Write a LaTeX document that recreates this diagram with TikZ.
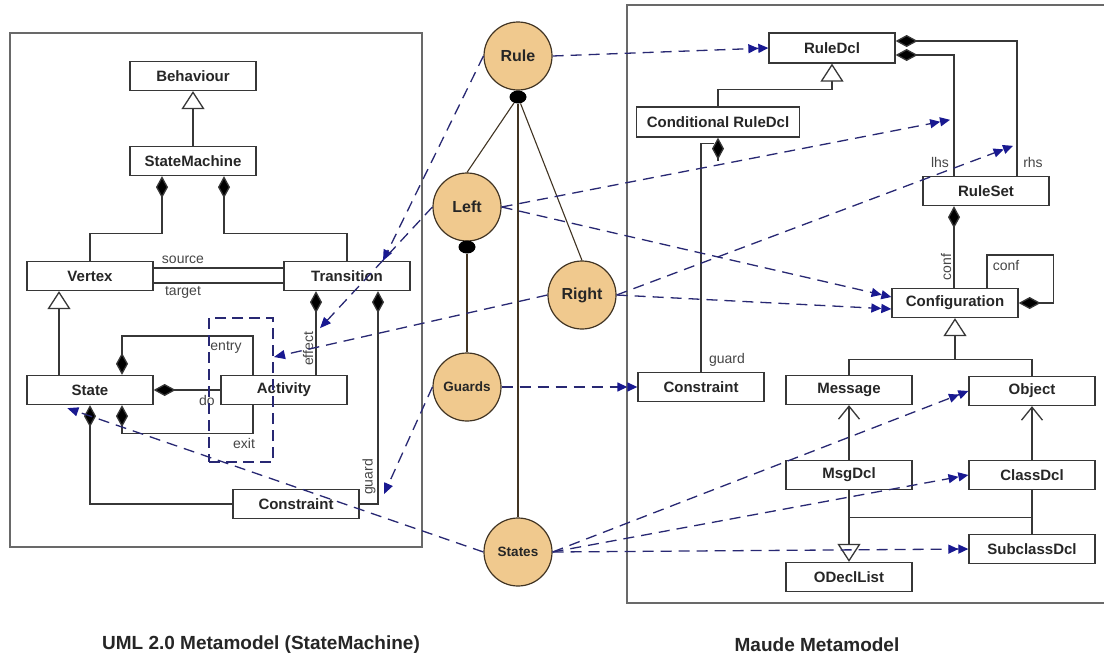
\documentclass[tikz,border=0pt]{standalone}
\usepackage{fontspec}
\setmainfont{Liberation Sans}
\usetikzlibrary{arrows.meta,calc,shapes.geometric}

\definecolor{navyline}{RGB}{40,40,115}
\definecolor{navytip}{RGB}{25,25,145}
\definecolor{boxline}{RGB}{55,55,55}
\definecolor{frameline}{RGB}{105,105,105}
\definecolor{disctan}{RGB}{240,201,142}
\definecolor{discline}{RGB}{65,52,35}
\definecolor{labelgray}{RGB}{70,70,70}

\tikzset{
  cls/.style={draw=boxline, line width=1.3pt, fill=white, minimum width=126pt,
    minimum height=29pt, inner sep=0pt, text=black!85,
    font=\bfseries\fontsize{15}{17}\selectfont},
  disc/.style={circle, draw=discline, line width=1.2pt, fill=disctan,
    minimum size=68pt, inner sep=0pt, text=black!85,
    font=\bfseries\fontsize{16}{18}\selectfont},
  discsm/.style={disc, font=\bfseries\fontsize{13.5}{16}\selectfont},
  ball/.style={ellipse, fill=black, minimum width=17pt, minimum height=13pt, inner sep=0pt},
  link/.style={draw=boxline, line width=1.3pt},
  comp/.style={link, {Diamond[length=22pt,width=12pt,fill=black]}-},
  gen/.style={link, -{Triangle[length=18pt,width=23pt,fill=white]}},
  nav/.style={link, -{Straight Barb[length=13pt,width=21pt]}},
  stem/.style={draw=discline, line width=1.1pt},
  map/.style={draw=navyline, line width=1.3pt, dash pattern=on 11pt off 7pt},
  tipone/.style={map, -{Triangle[length=11pt,width=9pt,color=navytip]}},
  tiptwo/.style={map, -{Triangle[length=10pt,width=9pt,color=navytip]
                        Triangle[length=10pt,width=9pt,color=navytip]}},
  role/.style={font=\fontsize{14}{16}\selectfont, text=labelgray, inner sep=0pt},
  panel/.style={draw=frameline, line width=1.6pt},
  grp/.style={draw=navyline, line width=2pt, dash pattern=on 11pt off 6pt},
  caption/.style={font=\bfseries\fontsize{19}{22}\selectfont, text=black!85},
}

\begin{document}
\begin{tikzpicture}[x=1pt, y=-1pt]
\useasboundingbox (0,0) rectangle (1104,659);
\fill[white] (0,0) rectangle (1104,659);

% the two metamodel frames
\draw[panel] (10,33) rectangle (422,547);
\draw[panel] (1104,5) -- (627,5) -- (627,603) -- (1104,603);

% UML state machine classes
\node[cls] (beh) at (193,76) {Behaviour};
\node[cls] (sm) at (193,161) {StateMachine};
\node[cls] (vertex) at (90,276) {Vertex};
\node[cls] (trans) at (347,276) {Transition};
\node[cls] (state) at (90,390) {State};
\node[cls] (activity) at (284,390) {Activity};
\node[cls] (cons1) at (296,504) {Constraint};

% Maude classes
\node[cls, minimum height=30pt] (ruledcl) at (832,48) {RuleDcl};
\node[cls, minimum width=163pt, minimum height=30pt] (condrule) at (718,122) {Conditional RuleDcl};
\node[cls] (ruleset) at (986,191) {RuleSet};
\node[cls] (config) at (955,303) {Configuration};
\node[cls] (cons2) at (701,387) {Constraint};
\node[cls] (message) at (849,390) {Message};
\node[cls] (object) at (1032,391) {Object};
\node[cls] (msgdcl) at (849,475) {MsgDcl};
\node[cls] (classdcl) at (1032,475) {ClassDcl};
\node[cls] (subclass) at (1032,549) {SubclassDcl};
\node[cls] (odecl) at (849,577) {ODeclList};

% rule pattern tree
\node[disc] (rule) at (518,56) {Rule};
\node[disc] (lft) at (467,207) {Left};
\node[disc] (rgt) at (582,295) {Right};
\node[discsm] (guards) at (467,387) {Guards};
\node[discsm] (states) at (518,552) {States};
\node[ball] (rball) at (518,97) {};
\node[ball] (lball) at (467,247) {};
\draw[stem] (rball) -- (lft.north);
\draw[stem] (rball) -- (states.north);
\draw[stem] (rball) -- (rgt.north);
\draw[stem] (lball) -- (guards.north);

% UML associations
\draw[gen] (sm.north) -- (beh.south);
\draw[comp] ([xshift=-31pt]sm.south) -- ++(0,57) -| (vertex.north);
\draw[comp] ([xshift=31pt]sm.south) -- ++(0,57) -| (trans.north);
\draw[link] ([yshift=8pt]vertex.east) -- ([yshift=8pt]trans.west);
\draw[link] ([yshift=-7pt]vertex.east) -- ([yshift=-7pt]trans.west);
\node[role] (lsource) at (183,260) {source};
\node[role] (ltarget) at (183,292) {target};
\draw[gen] ([xshift=-31pt]state.north) -- ([xshift=-31pt]vertex.south);
\draw[comp] ([xshift=32pt]state.north) -- ++(0,-39) -| ([xshift=-31pt]activity.north);
\draw[comp] (state.east) -- (activity.west);
\draw[comp] ([xshift=32pt]state.south) -- ++(0,28) -| ([xshift=-31pt]activity.south);
\draw[comp] (state.south) |- (cons1.west);
\draw[comp] ([xshift=-31pt]trans.south) -- ([xshift=-31pt]trans.south |- activity.north);
\draw[comp] ([xshift=31pt]trans.south) |- (cons1.east);
\node[role] (lentry) at (226,347) {entry};
\node[role] (ldo) at (207,400) {do};
\node[role] (lexit) at (244,443) {exit};
\node[role, rotate=90] (leffect) at (308,349) {effect};
\node[role, rotate=90] (lguard) at (369,477) {guard};
\node[grp, minimum width=64pt, minimum height=144pt, inner sep=0pt] (actgrp) at (241,390) {};

% Maude associations
\draw[gen] (condrule.north) -- ++(0,-17) -| (ruledcl.south);
\draw[comp] ([yshift=7pt]ruledcl.east) -| ([xshift=31pt]ruleset.north);
\draw[comp] ([yshift=-7pt]ruledcl.east) -| ([xshift=-32pt]ruleset.north);
\node[role] (llhs) at (940,162) {lhs};
\node[role] (lrhs) at (1033,162) {rhs};
\draw[comp] ([xshift=-32pt]ruleset.south) -- ([xshift=-32pt]ruleset.south |- config.north);
\node[role, rotate=90] (lconf) at (946,267) {conf};
\draw[comp] (config.east) -- ++(35,0) -- ++(0,-48) -| ([xshift=32pt]config.north);
\node[role] (lconfloop) at (1006,265) {conf};
\draw[comp] (condrule.south) -- ++(0,23);
\draw[link] ($(condrule.south)+(-4,6)$) -| (cons2.north);
\node[role] (lguard2) at (727,360) {guard};
\draw[gen] (message.north) |- ($(config.south)+(0,41)$) -- (config.south);
\draw[link] (object.north) |- ($(config.south)+(0,41)$);
\draw[nav] (msgdcl.north) -- (message.south);
\draw[nav] (classdcl.north) -- (object.south);
\draw[link] (classdcl.south) -- (subclass.north);
\coordinate (jn) at ($(classdcl.south)!0.62!(subclass.north)$);
\draw[link] (jn) -- (jn -| msgdcl.south);
\draw[gen] (msgdcl.south) -- (odecl.north);

% correspondence arrows
\coordinate (effpt) at ($(trans.south)+(-27,37)$);
\coordinate (lhspt) at ($(ruleset.north)+(-36,-56)$);
\coordinate (rhspt) at ($(ruleset.north)+(27,-30)$);
\coordinate (grdpt) at ($(trans.south)+(37,203)$);
\coordinate (stpt) at ($(state.south west)+(41,3)$);
\coordinate (entpt) at ($(actgrp.east)+(0,-33)$);
\draw[tiptwo] (rule.east) -- (ruledcl.west);
\draw[tipone] (rule.west) -- ([xshift=36pt]trans.north);
\draw[tipone] (lft.west) -- (effpt);
\draw[tiptwo] (lft.east) -- (lhspt);
\draw[tiptwo] (lft.east) -- ([yshift=6pt]config.west);
\draw[tiptwo] (rgt.east) -- ([yshift=-6pt]config.west);
\draw[tiptwo] (rgt.east) -- (rhspt);
\draw[tipone] (rgt.west) -- (entpt);
\draw[tiptwo] (guards.east) -- (cons2.west);
\draw[tipone] (guards.west) -- (grdpt);
\draw[tipone] (states.west) -- (stpt);
\draw[tiptwo] (states.east) -- (object.west);
\draw[tiptwo] (states.east) -- (classdcl.west);
\draw[tiptwo] (states.east) -- (subclass.west);

% captions
\node[caption] (umlcap) at (261,645) {UML 2.0 Metamodel (StateMachine)};
\node[caption] (maudecap) at (817,645) {Maude Metamodel};
\end{tikzpicture}
\end{document}
